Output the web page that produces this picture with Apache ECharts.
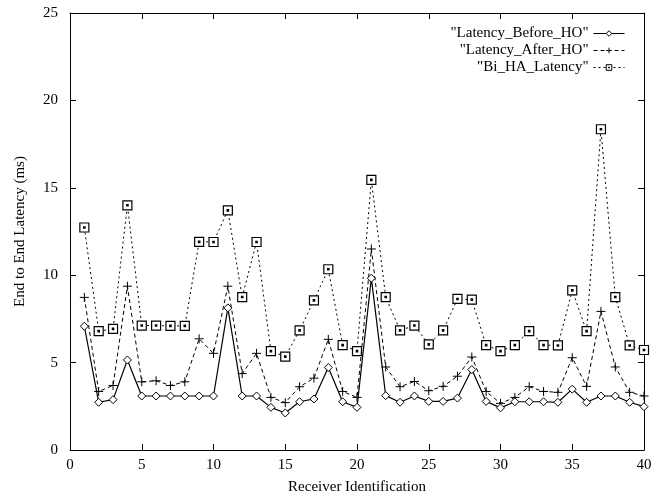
<!DOCTYPE html>
<html>
<head>
<meta charset="utf-8">
<script src="https://cdn.jsdelivr.net/npm/echarts@6/dist/echarts.min.js"></script>
<style>
  html, body { margin: 0; padding: 0; background: #fff; }
  #chart { width: 663px; height: 500px; }
</style>
</head>
<body>
<div id="chart"></div>
<script>
// Receiver ids 1..40
const receivers = [1,2,3,4,5,6,7,8,9,10,11,12,13,14,15,16,17,18,19,20,
                   21,22,23,24,25,26,27,28,29,30,31,32,33,34,35,36,37,38,39,40];

// End to end latency (ms) per receiver
const latencyBeforeHO = [7.08,2.73,2.88,5.15,3.09,3.09,3.09,3.09,3.09,3.09,
                         8.13,3.09,3.09,2.44,2.12,2.76,2.92,4.72,2.76,2.44,
                         9.83,3.11,2.73,3.09,2.78,2.78,2.97,4.60,2.78,2.41,
                         2.76,2.76,2.76,2.73,3.48,2.73,3.09,3.09,2.73,2.48];

const latencyAfterHO = [8.73,3.35,3.69,9.37,3.90,3.96,3.69,3.90,6.36,5.53,
                        9.37,4.37,5.53,3.01,2.71,3.62,4.11,6.33,3.35,3.01,
                        11.50,4.75,3.62,3.92,3.39,3.64,4.22,5.32,3.35,2.67,
                        3.01,3.62,3.35,3.30,5.28,3.64,7.93,4.75,3.30,3.09];

const biHALatency = [12.73,6.80,6.93,14.00,7.12,7.12,7.10,7.10,11.91,11.90,
                     13.71,8.75,11.90,5.66,5.34,6.84,8.56,10.34,6.00,5.66,
                     15.45,8.75,6.84,7.12,6.04,6.84,8.64,8.60,6.00,5.66,
                     6.00,6.80,6.00,5.98,9.13,6.80,18.35,8.75,5.98,5.72];

const seriesNames = ['"Latency_Before_HO"', '"Latency_After_HO"', '"Bi_HA_Latency"'];

const xTicks = { min: 0, max: 40, interval: 5 };
const yTicks = { min: 0, max: 25, interval: 5 };

const FONT = '"Liberation Serif", "DejaVu Serif", serif';

const pairs = vals => receivers.map((r, i) => [r, vals[i]]);

const plusSymbol = 'path://M0,5 L10,5 M5,0 L5,10';
const dotSquare = 'path://M0,0 L10,0 L10,10 L0,10 Z M4.2,4.2 L5.8,4.2 L5.8,5.8 L4.2,5.8 Z';
const openDiamond = 'path://M5,0 L10,5 L5,10 L0,5 Z';

const chart = echarts.init(document.getElementById('chart'), null, { renderer: 'canvas' });

function frameAxis(extra) {
  return Object.assign({
    type: 'value',
    axisLine: { show: true, onZero: false, lineStyle: { color: '#000', width: 1 } },
    axisTick: { show: true, inside: true, length: 6, lineStyle: { color: '#000', width: 1 } },
    splitLine: { show: false },
    axisLabel: { show: false }
  }, extra);
}

const legendCommon = {
  orient: 'vertical',
  align: 'right',
  right: 38,
  itemWidth: 31,
  itemHeight: 7,
  itemGap: 0,
  padding: 0,
  lineStyle: { width: 1 },
  itemStyle: { borderWidth: 1 },
  textStyle: { fontFamily: FONT, fontSize: 15, color: '#000' }
};

chart.setOption({
  animation: false,
  backgroundColor: '#fff',
  grid: { left: 70, right: 19, top: 13, bottom: 47, containLabel: false },
  legend: [
    Object.assign({ top: 26, data: [seriesNames[0]] }, legendCommon),
    Object.assign({ top: 43, data: [seriesNames[1]] }, legendCommon),
    Object.assign({ top: 60, data: [seriesNames[2]] }, legendCommon)
  ],
  xAxis: [
    frameAxis({
      position: 'bottom',
      min: xTicks.min, max: xTicks.max, interval: xTicks.interval,
      name: 'Receiver Identification',
      nameLocation: 'middle',
      nameGap: 30,
      nameTextStyle: { fontFamily: FONT, fontSize: 15, color: '#000' },
      axisLabel: { show: true, margin: 8, fontFamily: FONT, fontSize: 15, color: '#000' }
    }),
    frameAxis({
      position: 'top',
      min: xTicks.min, max: xTicks.max, interval: xTicks.interval
    })
  ],
  yAxis: [
    frameAxis({
      position: 'left',
      min: yTicks.min, max: yTicks.max, interval: yTicks.interval,
      name: 'End to End Latency (ms)',
      nameLocation: 'middle',
      nameGap: 42,
      nameTextStyle: { fontFamily: FONT, fontSize: 15, color: '#000' },
      axisLabel: { show: true, margin: 12, fontFamily: FONT, fontSize: 15, color: '#000' }
    }),
    frameAxis({
      position: 'right',
      min: yTicks.min, max: yTicks.max, interval: yTicks.interval
    })
  ],
  series: [
    {
      name: seriesNames[0],
      type: 'line',
      data: pairs(latencyBeforeHO),
      symbol: openDiamond,
      symbolSize: 8,
      showAllSymbol: true,
      lineStyle: { color: '#000', width: 1.2, type: 'solid' },
      itemStyle: { color: '#fff', borderColor: '#000', borderWidth: 1 },
      z: 4
    },
    {
      name: seriesNames[1],
      type: 'line',
      data: pairs(latencyAfterHO),
      symbol: plusSymbol,
      symbolSize: 9,
      showAllSymbol: true,
      lineStyle: { color: '#000', width: 1, type: [4, 3] },
      itemStyle: { color: '#000', borderColor: '#000', borderWidth: 1 },
      z: 3
    },
    {
      name: seriesNames[2],
      type: 'line',
      data: pairs(biHALatency),
      symbol: dotSquare,
      symbolSize: 9,
      showAllSymbol: true,
      lineStyle: { color: '#000', width: 1, type: [2, 3] },
      itemStyle: { color: '#fff', borderColor: '#000', borderWidth: 1.2 },
      z: 2
    }
  ]
});
</script>
</body>
</html>
